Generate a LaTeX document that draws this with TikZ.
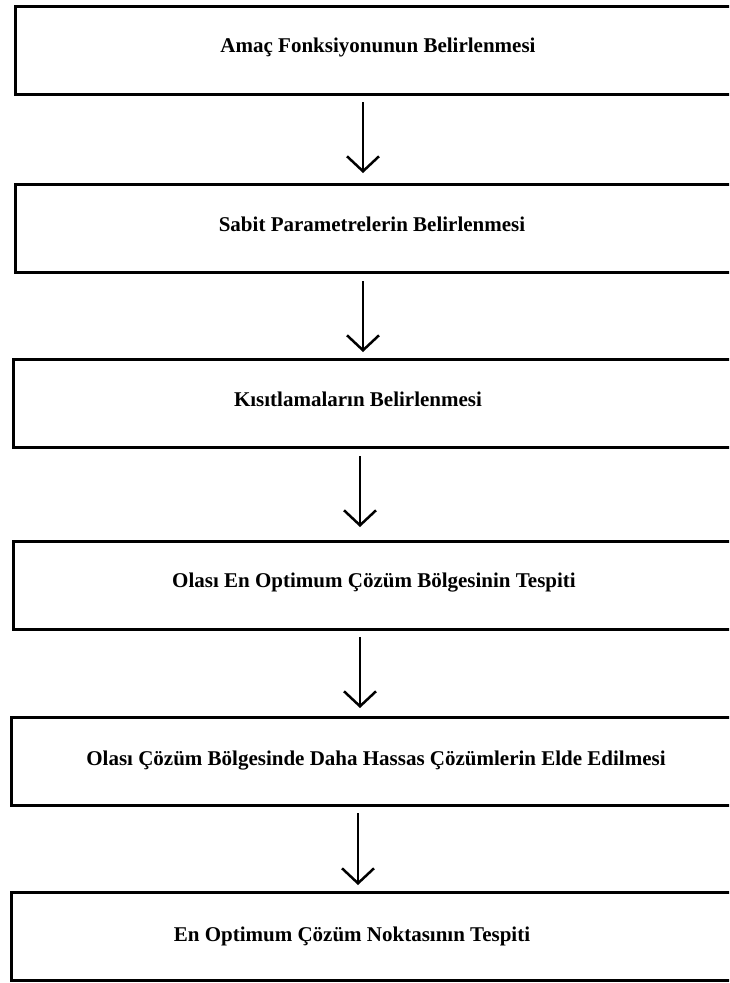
\documentclass[tikz,border=0pt]{standalone}
\usepackage{fontspec}
\setmainfont{Liberation Serif}
\usetikzlibrary{arrows.meta}
\tikzset{
    stepbox/.style={draw, line width=3pt, minimum width=735pt, minimum height=88pt, anchor=north west, inner sep=0pt},
    steptext/.style={font=\fontsize{21}{25}\selectfont\bfseries, inner sep=0pt, anchor=base},
    flow/.style={line width=2.5pt, -{Straight Barb[length=15pt,width=32pt]}}
}

\begin{document}
\begin{tikzpicture}[x=1pt, y=-1pt]
    \useasboundingbox (0,0) rectangle (729,983);
    \clip (0,0) rectangle (729,983);
    % boxes
    \node[stepbox] (b1) at (14,5) {};
    \node[stepbox] (b2) at (14,183) {};
    \node[stepbox] (b3) at (12,358) {};
    \node[stepbox] (b4) at (12,540) {};
    \node[stepbox] (b5) at (10,716) {};
    \node[stepbox] (b6) at (10,891) {};
    % texts
    \node[steptext] (t1) at (378,52) {Amaç Fonksiyonunun Belirlenmesi};
    \node[steptext] (t2) at (372,231) {Sabit Parametrelerin Belirlenmesi};
    \node[steptext] (t3) at (358,406) {Kısıtlamaların Belirlenmesi};
    \node[steptext] (t4) at (374,587) {Olası En Optimum Çözüm Bölgesinin Tespiti};
    \node[steptext] (t5) at (376,765) {Olası Çözüm Bölgesinde Daha Hassas Çözümlerin Elde Edilmesi};
    \node[steptext] (t6) at (352,941) {En Optimum Çözüm Noktasının Tespiti};
    % arrows
    \draw[flow] ([xshift=349pt,yshift=-6pt]b1.south west) -- ([xshift=349pt,yshift=10pt]b2.north west);
    \draw[flow] ([xshift=349pt,yshift=-7pt]b2.south west) -- ([xshift=351pt,yshift=6pt]b3.north west);
    \draw[flow] ([xshift=348pt,yshift=-7pt]b3.south west) -- ([xshift=348pt,yshift=13pt]b4.north west);
    \draw[flow] ([xshift=348pt,yshift=-6pt]b4.south west) -- ([xshift=350pt,yshift=8pt]b5.north west);
    \draw[flow] ([xshift=348pt,yshift=-6pt]b5.south west) -- ([xshift=348pt,yshift=6pt]b6.north west);
\end{tikzpicture}
\end{document}
